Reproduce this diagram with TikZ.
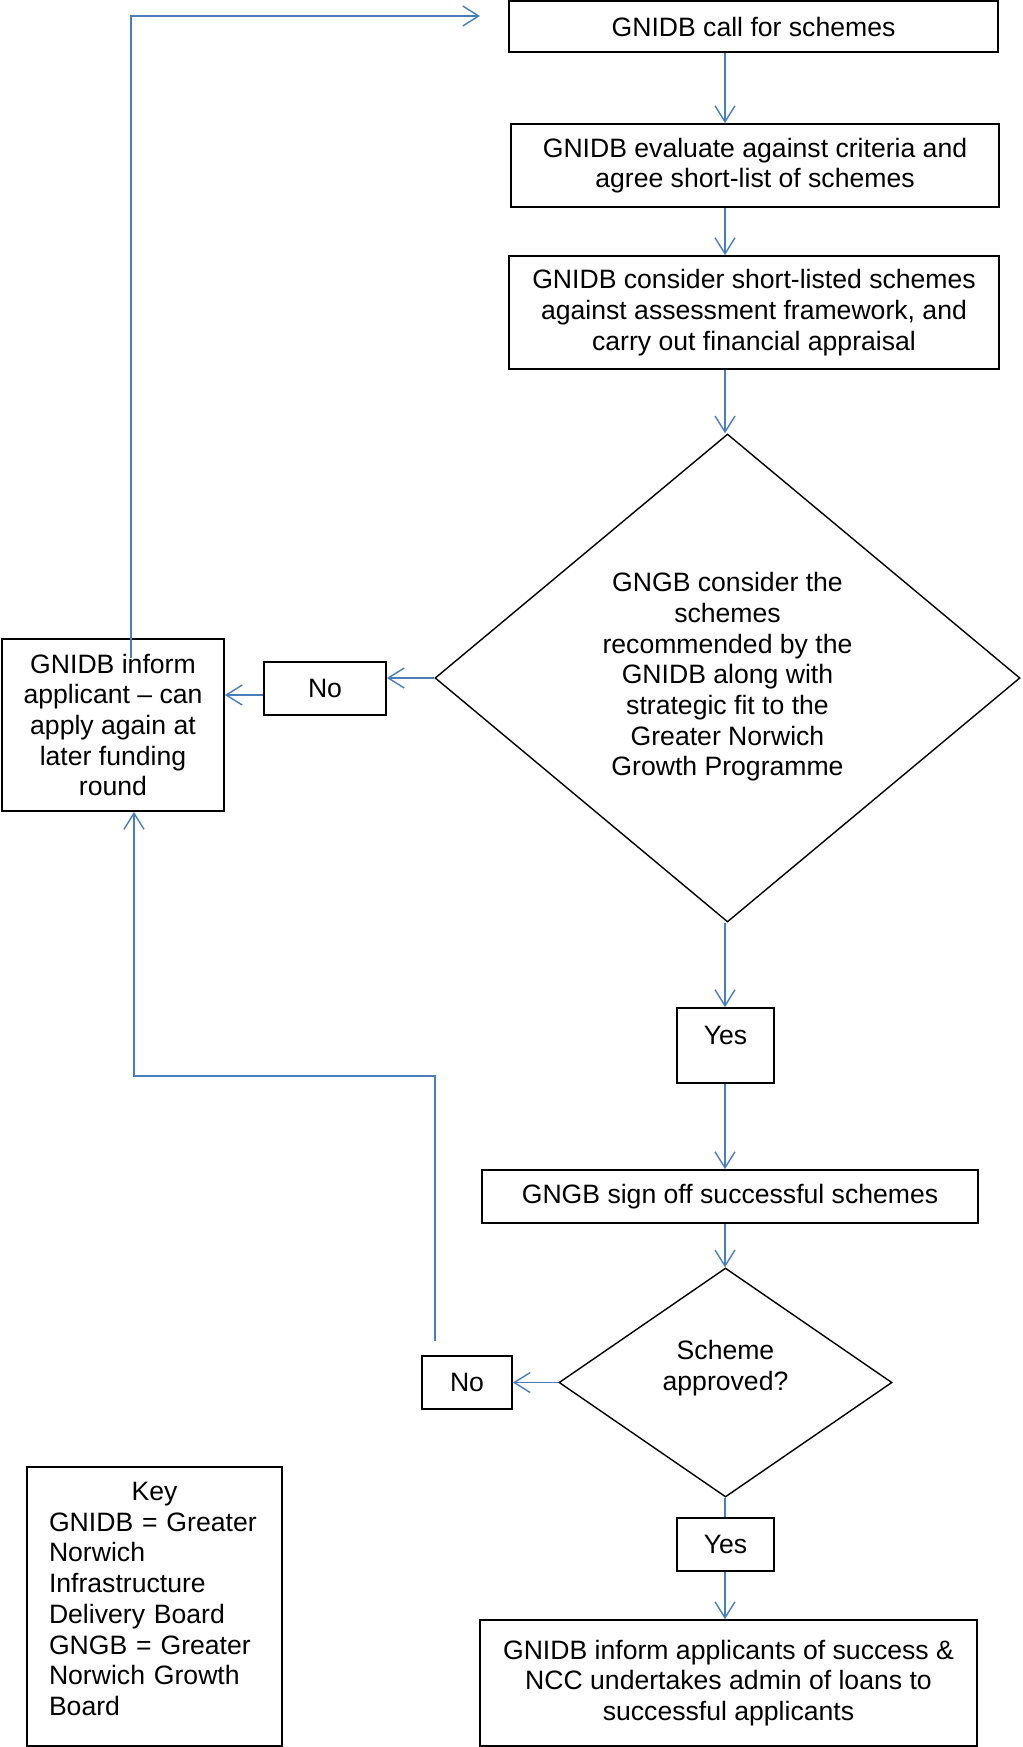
\documentclass[tikz,border=0pt]{standalone}
\usepackage{fontspec}
\setmainfont{Liberation Sans}
\usetikzlibrary{arrows.meta,shapes.geometric}
\definecolor{lineblue}{RGB}{74,126,187}
\begin{document}
\begin{tikzpicture}[x=1pt,y=-1pt,
  txt/.style={font=\fontsize{26.6}{30.7}\selectfont, align=center, inner sep=0pt},
  box/.style={draw=black, line width=1.8pt, inner sep=0pt, txt},
  dia/.style={draw=black, line width=1.4pt, shape=diamond, inner sep=0pt},
  conn/.style={draw=lineblue, line width=1.4pt},
  arr/.style={conn, -{Straight Barb[length=16pt,width=20pt]}}]
\useasboundingbox (0,0) rectangle (1022,1747);

% boxes
\node[box, minimum width=489pt, minimum height=51pt] (b1) at (753.5,26.5) {GNIDB call for schemes};
\node[box, minimum width=488pt, minimum height=83pt] (b2) at (755,165.5) {GNIDB evaluate against criteria and\\agree short-list of schemes};
\node[box, minimum width=490pt, minimum height=113pt] (b3) at (754,312.5) {GNIDB consider short-listed schemes\\against assessment framework, and\\carry out financial appraisal};
\node[dia, minimum width=585pt, minimum height=488pt] (d1) at (727.5,678) {};
\node[txt] (d1t) at (727.5,677) {GNGB consider the\\schemes\\recommended by the\\GNIDB along with\\strategic fit to the\\Greater Norwich\\Growth Programme};
\node[box, minimum width=122pt, minimum height=53pt] (n1) at (325,688.5) {No};
\node[box, minimum width=222pt, minimum height=172pt] (inf) at (113,725) {GNIDB inform\\applicant \textendash{} can\\apply again at\\later funding\\round};
\node[box, minimum width=97pt, minimum height=75pt] (y1) at (725.5,1045.5) {};
\node[txt] (y1t) at (725.5,1035) {Yes};
\node[box, minimum width=496pt, minimum height=53pt] (sg) at (730,1196.5) {GNGB sign off successful schemes};
\node[dia, minimum width=333pt, minimum height=229pt] (d2) at (725.5,1382.5) {};
\node[txt] (d2t) at (725.5,1368) {Scheme\\approved?};
\node[box, minimum width=90pt, minimum height=53pt] (n2) at (467,1382.5) {No};
\node[box, minimum width=97pt, minimum height=53pt] (y2) at (725.5,1544.5) {Yes};
\node[box, minimum width=497pt, minimum height=126pt] (fn) at (728.5,1683) {GNIDB inform applicants of success \&\\NCC undertakes admin of loans to\\successful applicants};
\node[box, minimum width=255pt, minimum height=279pt] (key) at (154.5,1606.5) {};
\node[txt, align=left, text width=211pt] (keyt) at (154.5,1599) {\makebox[\linewidth][c]{Key}\\GNIDB = Greater\\Norwich\\Infrastructure\\Delivery Board\\GNGB = Greater\\Norwich Growth\\Board};

% main trunk
\coordinate (tr) at (725,0);
\draw[arr] (b1.south -| tr) -- (b2.north -| tr);
\draw[arr] (b2.south -| tr) -- (b3.north -| tr);
\draw[arr] (b3.south -| tr) -- (d1.north -| tr);
\draw[arr] (d1.south -| tr) -- (y1.north -| tr);
\draw[arr] (y1.south -| tr) -- (sg.north -| tr);
\draw[arr] (sg.south -| tr) -- (d2.north -| tr);
\draw[conn] (d2.south -| tr) -- (y2.north -| tr);
\draw[arr] (y2.south -| tr) -- (fn.north -| tr);

% No branches
\draw[arr] (d1.west) -- (n1.east |- d1.west);
\coordinate (r1) at (0,695);
\draw[arr] (n1.west |- r1) -- (inf.east |- r1);
\draw[arr] (d2.west) -- (n2.east |- d2.west);

% loop back to top
\coordinate (upS) at (131,658);
\coordinate (upT) at (131,16);
\coordinate (upE) at (480,16);
\draw[arr] (upS) -- (upT) -- (upE);

% loop from second No
\coordinate (dnS) at (435,1341);
\coordinate (dnT) at (435,1076);
\coordinate (dnU) at (134,1076);
\draw[arr] (dnS) -- (dnT) -- (dnU) -- (inf.south -| dnU);
\end{tikzpicture}
\end{document}
